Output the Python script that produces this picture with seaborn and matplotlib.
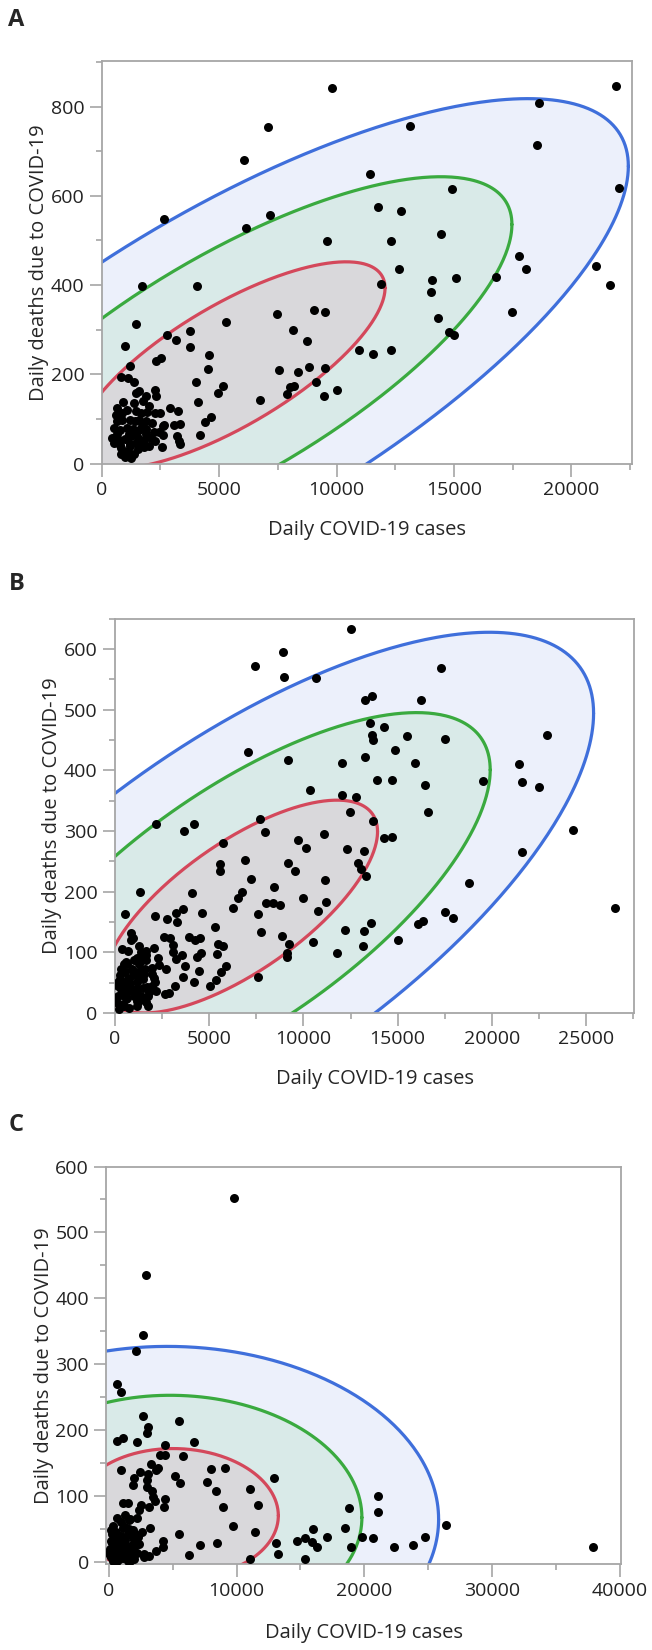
import numpy as np
import pandas as pd
import matplotlib
matplotlib.use("Agg")
import matplotlib.pyplot as plt
from matplotlib.ticker import MultipleLocator
import seaborn as sns

# ---- panel A: daily cases vs daily deaths ----
a_cases = [9810, 21880, 18600, 7085, 13140, 18550, 6055, 11410, 22020, 14900,
           11780, 12740, 2650, 7155, 6140, 14430, 9600, 12300, 17750, 21050,
           18050, 12640, 14080, 15100, 16770, 1730, 4070, 11900, 21660, 14010,
           17470, 7470, 9020, 9510, 14330, 1470, 8150, 5300, 2775, 3175,
           3750, 14800, 15000, 8740, 995, 3750, 10960, 11570, 12300, 4555,
           2320, 2510, 1190, 4540, 7560, 8340, 8810, 9510, 4010, 5170,
           4940, 9145, 8010, 8170, 7900, 9480, 10030, 6740, 4120, 4660,
           4415, 4190, 2900, 3230, 2650, 3070, 3350, 3210, 3315, 2565, 3270,
           1471, 1608, 1880, 2289, 2330, 926, 654, 1063, 1362, 1744,
           1471, 1676, 1948, 2289, 2493, 654, 858, 1199, 1403, 1608,
           1880, 2153, 2602, 518, 790, 1063, 1335, 1608, 1880, 2221,
           450, 722, 995, 1267, 1540, 1812, 2084, 2289, 2425, 2629,
           518, 790, 1199, 1471, 838, 1117, 1361, 942, 1361, 1012,
           803, 838, 1187, 1536, 1797, 1626, 1885, 663, 1152, 1448,
           1710, 873, 1100, 1250, 2000, 600, 2000]
a_deaths = [841, 846, 807, 755, 757, 714, 681, 648, 617, 616,
            576, 567, 548, 556, 529, 514, 499, 499, 466, 442,
            437, 435, 412, 417, 419, 397, 398, 402, 400, 384,
            339, 336, 344, 339, 327, 312, 300, 318, 288, 277,
            297, 294, 289, 274, 263, 262, 254, 245, 254, 243,
            230, 236, 218, 213, 210, 206, 216, 214, 183, 174,
            159, 183, 171, 173, 155, 151, 166, 142, 139, 104,
            93, 64, 125, 117, 86, 87, 88, 61, 43, 38, 50,
            159, 162, 151, 165, 151, 138, 125, 120, 135, 140,
            117, 114, 116, 114, 114, 95, 98, 98, 95, 98,
            95, 91, 85, 80, 76, 80, 78, 76, 78, 72,
            57, 53, 56, 61, 57, 53, 57, 50, 72, 65,
            46, 42, 44, 46, 194, 193, 182, 25, 21, 15,
            21, 36, 40, 32, 37, 47, 66, 66, 66, 66,
            84, 114, 28, 12, 40, 110, 130]

# ---- panel B ----
b_cases = [12527, 8913, 7446, 8957, 10687, 17301, 13250, 13622, 16228, 13512,
           14257, 13622, 13709, 15505, 17498, 22930, 7052, 9176, 14848, 13250,
           12067, 15943, 21440, 13928, 14717, 19535, 21593, 22469, 16447, 10337,
           12045, 12768, 16600, 12461, 13666, 24309, 2212, 4183, 3657, 7687,
           7972, 11081, 14301, 14695, 9702, 10140, 5738, 12308, 13228, 21593,
           6899, 9198, 5563, 5606, 9548, 12899, 13031, 13337, 11169, 7205,
           18790, 1336, 4095, 6723, 8432, 6548, 9965, 8015, 8410, 8738,
           11213, 6263, 10775, 26521, 548, 2146, 3592, 3263, 2759, 3307,
           4643, 7621, 17520, 17958, 16075, 16316, 13578, 5300, 7731, 12220,
           13228, 15023, 8870, 10512, 13140, 9264, 9132, 9154, 11760, 7599,
           854, 942, 3920, 4511, 4249, 2628, 2935, 2059, 3088, 3088,
           4577, 4380, 3570, 5497, 5738, 5409, 723, 1664, 1183, 1424,
           3263, 3723, 5913, 2343, 2738, 4490, 5650, 3592, 4205, 3219,
           5037, 5344, 2672, 2869, 2168, 504, 657, 1314, 1599, 1971,
           569, 942, 285, 197, 548, 1161, 1489, 1708, 2146, 350,
           723, 1161, 175, 613, 1007, 1489, 1643, 1774, 66, 394,
           767, 1161, 241, 1380, 679, 920, 1270, 1643,
           150, 300, 450, 600, 750, 900, 1050, 1200, 1350, 1500,
           1650, 1800, 1950, 2100, 2300, 200, 400, 650, 850, 1100,
           1300, 1550, 1750, 2000, 350, 500, 800, 1000, 1250, 1400]
b_deaths = [633, 595, 572, 554, 553, 569, 516, 522, 516, 478,
            472, 458, 450, 457, 452, 459, 431, 417, 433, 422,
            412, 412, 410, 384, 384, 383, 381, 373, 376, 368,
            360, 357, 332, 332, 316, 302, 312, 311, 300, 320,
            299, 296, 289, 290, 286, 272, 281, 270, 268, 265,
            252, 247, 246, 235, 235, 248, 237, 226, 220, 221,
            215, 200, 198, 199, 208, 189, 190, 182, 182, 178,
            183, 174, 169, 174, 163, 160, 172, 165, 155, 150,
            165, 163, 166, 157, 147, 151, 148, 142, 134, 137,
            135, 121, 127, 118, 111, 114, 99, 92, 99, 59,
            132, 124, 126, 123, 121, 125, 124, 108, 112, 100,
            99, 93, 96, 114, 110, 97, 103, 102, 91, 88,
            89, 77, 77, 80, 73, 70, 67, 60, 52, 44,
            45, 54, 31, 33, 36, 81, 81, 70, 73, 65,
            67, 62, 57, 51, 48, 51, 56, 43, 51, 39,
            37, 40, 29, 23, 29, 24, 18, 11, 18, 13,
            9, 11, 7, 29, 56, 73, 81, 87,
            45, 62, 30, 85, 52, 40, 68, 20, 60, 42,
            95, 35, 75, 58, 90, 15, 105, 25, 120, 33,
            110, 64, 28, 45, 72, 12, 50, 88, 18, 100]

# ---- panel C ----
c_cases = [9781, 2928, 2679, 2149, 685, 966, 2679, 3053, 2959, 5514,
           654, 1121, 2243, 6666, 4392, 4018, 4423, 5825, 997, 3333,
           3738, 3863, 7974, 9127, 12896, 5171, 5576, 7663, 1994, 2430,
           3084, 3022, 1869, 2959, 3395, 3489, 8410, 11027, 21057, 4392,
           3613, 4361, 1153, 1526, 2554, 3115, 2336, 8940, 11681, 18783,
           21089, 685, 1246, 1620, 2243, 3240, 9688, 26353, 18472, 15980,
           1246, 1931, 187, 5482, 11432, 19780, 20652, 24733, 17070, 15357,
           14734, 15918, 16292, 13083, 13207, 15388, 18939, 22335, 23799, 37878,
           7133, 8473, 6292, 11027, 4236, 4236, 3676, 2772, 3177, 2741,
           280, 436, 685, 125, 530, 156, 841, 1308, 1620, 1994,
           1308, 1869, 1495, 997, 1153, 685, 1682, 2118, 2243, 374,
           0, 1869, 997, 685,
           100, 250, 400, 550, 700, 850, 1000, 1150, 1300, 1450,
           1600, 1750, 1900, 2050, 2200, 2400, 2600, 300, 500, 750,
           950, 1200, 1400, 1700, 2000, 2300, 150, 600, 900, 1100,
           1500, 1800]
c_deaths = [552, 436, 344, 320, 270, 258, 222, 205, 196, 214,
            184, 188, 182, 182, 177, 162, 162, 161, 139, 148,
            139, 142, 141, 142, 128, 130, 120, 121, 128, 136,
            134, 124, 117, 114, 107, 99, 107, 111, 100, 96,
            92, 83, 90, 89, 87, 84, 79, 83, 86, 82,
            76, 67, 71, 63, 66, 52, 55, 56, 52, 50,
            53, 49, 49, 42, 46, 38, 37, 38, 38, 37,
            32, 30, 23, 29, 12, 5, 22, 23, 25, 23,
            26, 29, 11, 4, 32, 23, 16, 12, 9, 8,
            42, 33, 25, 20, 13, 7, 4, 7, 13, 22,
            25, 36, 42, 39, 16, 1, 2, 30, 41, 1,
            13, 8, 30, 19,
            10, 28, 5, 18, 40, 12, 25, 6, 33, 15,
            50, 8, 21, 35, 14, 27, 45, 55, 3, 30,
            60, 9, 22, 65, 4, 38, 32, 46, 17, 52,
            2, 26]

panels = [("A", a_cases, a_deaths), ("B", b_cases, b_deaths), ("C", c_cases, c_deaths)]

# density ellipse levels, drawn largest first
levels = [0.99, 0.90, 0.50]
line_colors = ["#3f6fdb", "#3aaa3f", "#d4485b"]
fill_colors = ["#ecf0fb", "#d9eae8", "#d9d8db"]

sns.set_style("white")
plt.rcParams["font.family"] = ["Open Sans", "DejaVu Sans"]

fig = plt.figure(figsize=(6.52, 16.5), dpi=100)

boxes = [[0.156, 0.719, 0.813, 0.244],
         [0.176, 0.386, 0.797, 0.239],
         [0.163, 0.052, 0.790, 0.241]]
limits = [((0, 22570), (0, 902), 5000, 2500, 200, 100),
          ((0, 27550), (0, 650), 5000, 2500, 100, 50),
          ((-190, 40100), (-3.5, 600), 10000, 5000, 100, 50)]
letter_y = [0.988, 0.646, 0.318]
xpads = [15, 15, 17]


def draw_ellipse(ax, x, y, p, lc, fc):
    x = np.asarray(x, float)
    y = np.asarray(y, float)
    mu = np.array([x.mean(), y.mean()])
    L = np.linalg.cholesky(np.cov(x, y))
    t = np.linspace(0, 2 * np.pi, 500)
    r = np.sqrt(-2 * np.log(1 - p))
    pts = mu[:, None] + r * (L @ np.vstack([np.cos(t), np.sin(t)]))
    ax.fill(pts[0], pts[1], color=fc, zorder=1, lw=0)
    ax.plot(pts[0], pts[1], color=lc, lw=2.3, zorder=2)


for (letter, xs, ys), box, lim, ly, xp in zip(panels, boxes, limits, letter_y, xpads):
    ax = fig.add_axes(box)
    df = pd.DataFrame({"cases": xs, "deaths": ys})
    for p, lc, fc in zip(levels, line_colors, fill_colors):
        draw_ellipse(ax, df["cases"], df["deaths"], p, lc, fc)
    sns.scatterplot(data=df, x="cases", y="deaths", ax=ax, color="black",
                    s=42, linewidth=0, zorder=3)
    ax.set_xlim(*lim[0])
    ax.set_ylim(*lim[1])
    ax.xaxis.set_major_locator(MultipleLocator(lim[2]))
    ax.xaxis.set_minor_locator(MultipleLocator(lim[3]))
    ax.yaxis.set_major_locator(MultipleLocator(lim[4]))
    ax.yaxis.set_minor_locator(MultipleLocator(lim[5]))
    for s in ax.spines.values():
        s.set_color("#a6a6a6")
        s.set_linewidth(1.3)
    ax.tick_params(which="major", length=9, width=1.2, color="#a6a6a6",
                   labelsize=14, labelcolor="#222222", direction="out",
                   bottom=True, left=True)
    ax.tick_params(which="minor", length=4.5, width=1.2, color="#a6a6a6",
                   direction="out", bottom=True, left=True)
    ax.set_xlabel("Daily COVID-19 cases", fontsize=14.5, labelpad=xp)
    ax.set_ylabel("Daily deaths due to COVID-19", fontsize=14.5, labelpad=1)
    fig.text(0.013, ly, letter, fontsize=17, fontweight="bold", va="center")

fig.savefig("out.png", dpi=100)
